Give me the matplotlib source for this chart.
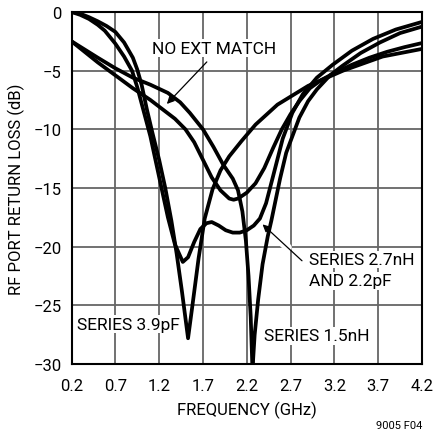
import matplotlib
matplotlib.use("Agg")
import matplotlib.pyplot as plt

plt.rcParams["font.family"] = ["Roboto", "DejaVu Sans"]

# curves (GHz, dB)
freq_no_ext = [0.2, 0.35, 0.5, 0.7, 0.9, 1.1, 1.24, 1.38, 1.5, 1.6, 1.7, 1.8, 1.9, 2.0, 2.05,
               2.1, 2.2, 2.3, 2.4, 2.5, 2.6, 2.7, 2.8, 2.92, 3.05, 3.2, 3.4, 3.6, 3.8, 4.0, 4.2]
rl_no_ext = [-2.5, -3.4, -4.3, -5.4, -6.5, -7.5, -8.3, -9.1, -10.0, -11.1, -12.6, -14.1, -15.2, -15.9, -16.0,
             -15.9, -15.4, -14.6, -13.3, -11.6, -10.0, -8.7, -7.6, -6.5, -5.8, -5.2, -4.5, -3.9, -3.4, -3.0, -2.65]

freq_39pf = [0.2, 0.3, 0.4, 0.5, 0.6, 0.7, 0.8, 0.9, 0.95, 1.0, 1.06, 1.12, 1.2, 1.27, 1.34, 1.4,
             1.46, 1.53, 1.58, 1.65, 1.72, 1.81, 1.9, 2.0, 2.14, 2.3, 2.55, 2.9, 3.3, 3.75, 4.2]
rl_39pf = [0.0, -0.15, -0.45, -0.8, -1.2, -1.7, -2.6, -3.9, -4.9, -6.2, -8.3, -10.2, -12.6, -15.0, -17.8, -20.6,
           -23.8, -27.8, -25.0, -21.0, -17.6, -15.1, -13.5, -12.3, -11.0, -9.6, -7.9, -6.3, -5.0, -3.8, -3.15]

freq_27nh = [0.2, 0.3, 0.4, 0.5, 0.58, 0.7, 0.8, 0.89, 0.95, 1.0, 1.1, 1.23, 1.3, 1.38, 1.47, 1.53,
             1.6, 1.67, 1.74, 1.8, 1.88, 1.96, 2.04, 2.12, 2.2, 2.28, 2.35, 2.42, 2.5, 2.61, 2.72,
             2.84, 3.0, 3.18, 3.4, 3.64, 3.9, 4.2]
rl_27nh = [0.0, -0.25, -0.6, -1.1, -1.6, -2.7, -3.8, -5.0, -6.4, -7.8, -10.6, -15.1, -17.5, -19.8, -21.3, -20.9,
           -19.6, -18.5, -18.0, -17.9, -18.2, -18.6, -18.8, -18.8, -18.6, -18.2, -17.6, -16.3, -14.0, -10.8, -8.6,
           -7.0, -5.6, -4.5, -3.3, -2.3, -1.5, -0.85]

freq_15nh = [0.2, 0.35, 0.5, 0.7, 0.9, 1.1, 1.3, 1.44, 1.55, 1.7, 1.82, 1.93, 2.04, 2.1, 2.15, 2.19,
             2.22, 2.245, 2.265, 2.29, 2.33, 2.38, 2.44, 2.48, 2.53, 2.58, 2.65, 2.72, 2.8, 2.9, 3.0,
             3.15, 3.29, 3.5, 3.72, 3.95, 4.2]
rl_15nh = [-2.5, -3.2, -3.9, -4.8, -5.6, -6.2, -6.9, -7.7, -8.6, -10.0, -11.5, -13.0, -14.2, -15.2, -17.0, -19.5,
           -22.5, -26.0, -30.5, -27.5, -24.5, -21.5, -19.1, -17.8, -16.0, -14.2, -12.0, -10.6, -9.0, -7.6, -6.6,
           -5.4, -4.6, -3.5, -2.6, -1.8, -1.25]

x_ticks = [0.2, 0.7, 1.2, 1.7, 2.2, 2.7, 3.2, 3.7, 4.2]
y_ticks = [0, -5, -10, -15, -20, -25, -30]

fig = plt.figure(figsize=(4.36, 4.31), dpi=100)
ax = fig.add_axes([0.164, 0.153, 0.804, 0.817])

for f, rl in [(freq_no_ext, rl_no_ext), (freq_39pf, rl_39pf),
              (freq_27nh, rl_27nh), (freq_15nh, rl_15nh)]:
    ax.plot(f, rl, color="black", lw=2.7, solid_joinstyle="round", zorder=3)

ax.set_xlim(0.2, 4.2)
ax.set_ylim(-30, 0)
ax.set_xticks(x_ticks)
ax.set_xticklabels([f"{v:.1f}" for v in x_ticks])
ax.set_yticks(y_ticks)
ax.set_yticklabels(["0" if v == 0 else f"\u2212{abs(v)}" for v in y_ticks])
ax.tick_params(length=0, labelsize=12)
ax.tick_params(axis="x", pad=10)
ax.tick_params(axis="y", pad=7)
ax.grid(True, color="#666666", lw=1.3)
for s in ax.spines.values():
    s.set_linewidth(1.5)

ax.set_xlabel("FREQUENCY (GHz)", fontsize=12, va="top")
ax.xaxis.set_label_coords(0.5, -0.105)
ax.set_ylabel("RF PORT RETURN LOSS (dB)", fontsize=12)
ax.yaxis.set_label_coords(-0.133, 0.5)

box = dict(facecolor="white", edgecolor="none", pad=1)

# arrows: white underlay makes the break in the crossed curve
for tip, tail in [((1.288, -7.84), (1.744, -4.26)), ((2.38, -18.1), (2.83, -21.2))]:
    ax.annotate("", xy=tip, xytext=tail,
                arrowprops=dict(arrowstyle="-", color="white", lw=6, shrinkA=14, shrinkB=14), zorder=4)
    ax.annotate("", xy=tip, xytext=tail,
                arrowprops=dict(arrowstyle="-|>", color="black", lw=0.9, mutation_scale=11,
                                shrinkA=0, shrinkB=0), zorder=5)

ax.text(1.824, -3.1, "NO EXT MATCH", fontsize=12.5, ha="center", va="center", bbox=box, zorder=6)
ax.text(2.907, -21.1, "SERIES 2.7nH", fontsize=12.5, ha="left", va="center", bbox=box, zorder=6)
ax.text(2.907, -22.9, "AND 2.2pF", fontsize=12.5, ha="left", va="center", bbox=box, zorder=6)
ax.text(0.263, -26.6, "SERIES 3.9pF", fontsize=12.5, ha="left", va="center", bbox=box, zorder=6)
ax.text(2.394, -27.6, "SERIES 1.5nH", fontsize=12.5, ha="left", va="center", bbox=box, zorder=6)

fig.text(0.968, 0.012, "9005 F04", fontsize=8, ha="right", va="center")

fig.savefig("out.png", dpi=100)
